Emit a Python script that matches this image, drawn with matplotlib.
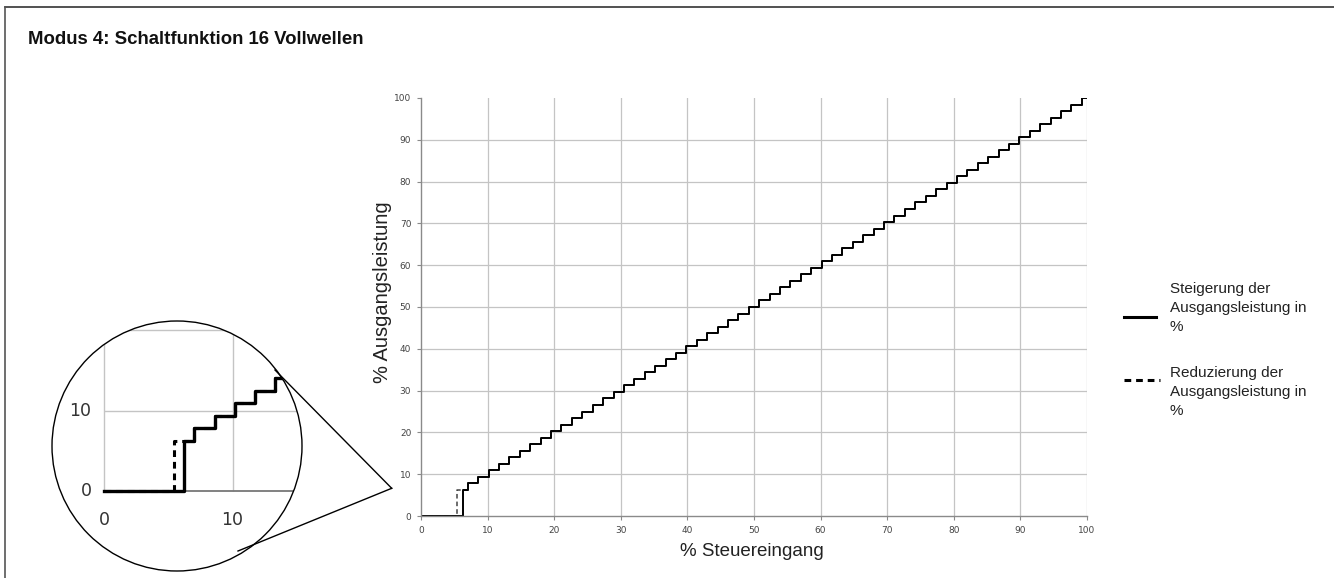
import matplotlib
matplotlib.use("Agg")
from matplotlib import pyplot as plt
from matplotlib.lines import Line2D
from matplotlib.patches import Circle

# Steigerung: Einschaltpunkte (% Steuereingang) und Stufen (% Ausgangsleistung)
steig_x = [0.0, 6.25, 7.03, 8.59, 10.16, 11.72, 13.28, 14.84, 16.41, 17.97, 19.53,
           21.09, 22.66, 24.22, 25.78, 27.34, 28.91, 30.47, 32.03, 33.59, 35.16,
           36.72, 38.28, 39.84, 41.41, 42.97, 44.53, 46.09, 47.66, 49.22, 50.78,
           52.34, 53.91, 55.47, 57.03, 58.59, 60.16, 61.72, 63.28, 64.84, 66.41,
           67.97, 69.53, 71.09, 72.66, 74.22, 75.78, 77.34, 78.91, 80.47, 82.03,
           83.59, 85.16, 86.72, 88.28, 89.84, 91.41, 92.97, 94.53, 96.09, 97.66,
           99.22, 100.0]
steig_y = [0.0, 6.25, 7.81, 9.38, 10.94, 12.5, 14.06, 15.63, 17.19, 18.75, 20.31,
           21.88, 23.44, 25.0, 26.56, 28.13, 29.69, 31.25, 32.81, 34.38, 35.94,
           37.5, 39.06, 40.63, 42.19, 43.75, 45.31, 46.88, 48.44, 50.0, 51.56,
           53.13, 54.69, 56.25, 57.81, 59.38, 60.94, 62.5, 64.06, 65.63, 67.19,
           68.75, 70.31, 71.88, 73.44, 75.0, 76.56, 78.13, 79.69, 81.25, 82.81,
           84.38, 85.94, 87.5, 89.06, 90.63, 92.19, 93.75, 95.31, 96.88, 98.44,
           100.0, 100.0]

# Reduzierung: schaltet bei 5.47 % statt 6.25 % ein
reduz_x = [0.0, 5.47] + steig_x[2:]
reduz_y = steig_y

ticks = [0, 10, 20, 30, 40, 50, 60, 70, 80, 90, 100]
inset_ticks = [0, 10]
inset_grid = [10, 20]

W, H = 1334, 578
TICKFONT = ['Liberation Sans Narrow', 'DejaVu Sans']
TEXTFONT = ['Liberation Sans', 'DejaVu Sans']
GRID = '#c4c4c4'
AXC = '#8a8a8a'


def fx(px):
    return px / W


def fy(py):
    return 1 - py / H


fig = plt.figure(figsize=(W / 100, H / 100), dpi=100)

# Rahmen oben und links
fig.add_artist(Line2D([fx(5), 1], [fy(7), fy(7)], color='#333333', lw=1.2))
fig.add_artist(Line2D([fx(5), fx(5)], [fy(7), 0], color='#555555', lw=1.2))

fig.text(fx(28), fy(40), 'Modus 4: Schaltfunktion 16 Vollwellen', family=TEXTFONT,
         fontsize=13.4, fontweight='bold', va='center', ha='left', color='#111111')

# Hauptdiagramm
ax = fig.add_axes([fx(421), fy(516), fx(1087) - fx(421), fy(98) - fy(516)])
ax.step(reduz_x, reduz_y, where='post', color='#444444', lw=1.1, ls=(0, (3, 2)))
ax.step(steig_x, steig_y, where='post', color='black', lw=1.4)
ax.set_xlim(0, 100)
ax.set_ylim(0, 100)
ax.set_xticks(ticks)
ax.set_yticks(ticks)
for t in ticks[1:]:
    ax.axvline(t, color=GRID, lw=0.9, zorder=0)
for t in ticks[1:-1]:
    ax.axhline(t, color=GRID, lw=0.9, zorder=0)
for s in ['top', 'right']:
    ax.spines[s].set_visible(False)
for s in ['left', 'bottom']:
    ax.spines[s].set_color(AXC)
    ax.spines[s].set_linewidth(1.0)
ax.tick_params(colors=AXC, length=3, width=0.8, labelsize=6.5, labelcolor='#444444', pad=4)
for lab in ax.get_xticklabels() + ax.get_yticklabels():
    lab.set_family(TICKFONT)

fig.text(fx(752), fy(552), '% Steuereingang', family=TEXTFONT, fontsize=13.5,
         color='#222222', ha='center', va='center')
fig.text(fx(383), fy(292), '% Ausgangsleistung', family=TEXTFONT, fontsize=14.5,
         color='#222222', ha='center', va='center', rotation=90)

# Lupe
cx, cy, r = 177, 446, 125
ins = fig.add_axes([fx(cx - r), fy(cy + r), 2 * r / W, 2 * r / H])
ins.set_xlim((cx - r - 104.3) / 12.83, (cx + r - 104.3) / 12.83)
ins.set_ylim((491 - (cy + r)) / 8.03, (491 - (cy - r)) / 8.03)
ins.axis('off')
circ = Circle((0.5, 0.5), 0.5, transform=ins.transAxes, facecolor='none',
              edgecolor='black', lw=1.0, zorder=10, clip_on=False)
ins.add_patch(circ)
arts = []
arts.append(ins.hlines(inset_grid, 0, 30, color=GRID, lw=1.0, zorder=1))
arts.append(ins.vlines(inset_ticks, 0, 30, color=GRID, lw=1.0, zorder=1))
arts.append(ins.hlines([0], 0, 30, color='#777777', lw=1.3, zorder=2))
arts += ins.step(reduz_x, reduz_y, where='post', color='black', lw=2.2, ls=(0, (2.2, 1.6)), zorder=3)
arts += ins.step(steig_x, steig_y, where='post', color='black', lw=2.4, zorder=4)
for a in arts:
    a.set_clip_path(circ)
for t in inset_ticks:
    ins.text(t, -3.6, str(t), ha='center', va='center', family=TICKFONT, fontsize=12.5, color='#333333')
    ins.text(-1.0, t, str(t), ha='right', va='center', family=TICKFONT, fontsize=12.5, color='#333333')

# Verbindungslinien zur Lupe
apex = (391.7, 488.3)
for p in [(275, 370), (238, 551)]:
    fig.add_artist(Line2D([fx(p[0]), fx(apex[0])], [fy(p[1]), fy(apex[1])], color='black', lw=1.0))

# Legende
fig.add_artist(Line2D([fx(1124), fx(1156)], [fy(317), fy(317)], color='black', lw=2.2))
fig.add_artist(Line2D([fx(1124), fx(1160)], [fy(380), fy(380)], color='black', lw=2.2, ls=(0, (2.2, 1.6))))
fig.text(fx(1170), fy(308), 'Steigerung der\nAusgangsleistung in\n%', family=TEXTFONT,
         fontsize=11, va='center', ha='left', color='#222222', linespacing=1.45)
fig.text(fx(1170), fy(392), 'Reduzierung der\nAusgangsleistung in\n%', family=TEXTFONT,
         fontsize=11, va='center', ha='left', color='#222222', linespacing=1.45)

fig.savefig('out.png', dpi=100)
